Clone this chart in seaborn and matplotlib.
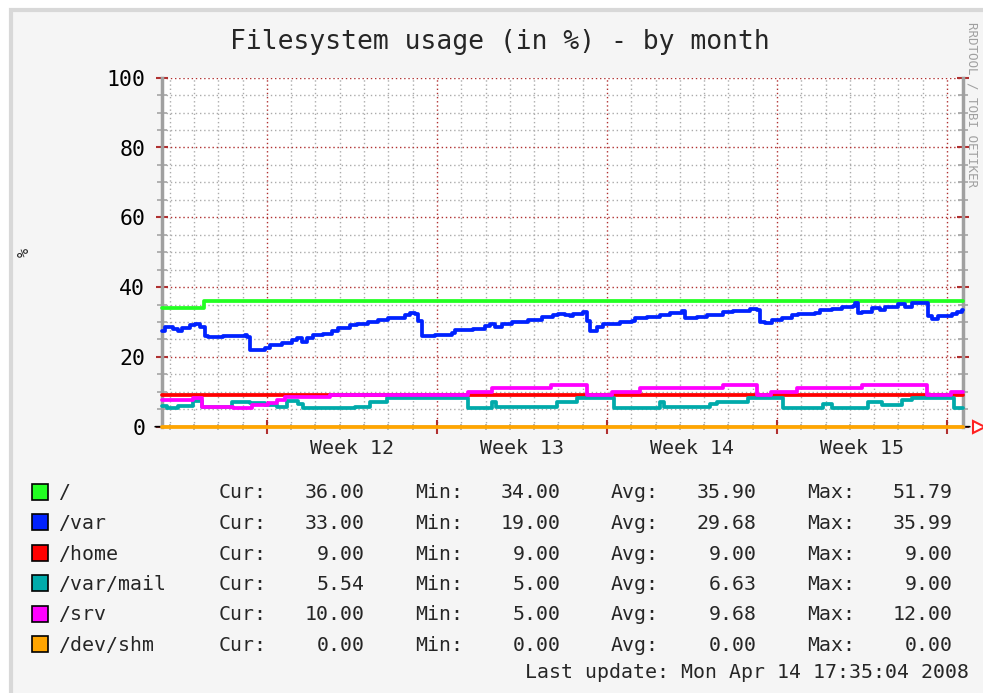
import pandas as pd
import matplotlib
matplotlib.use("Agg")
import matplotlib.pyplot as plt
import seaborn as sns
from matplotlib.patches import Rectangle
from matplotlib.ticker import MultipleLocator, NullFormatter

# days, 0 = start of week 12
filesystems = ["/", "/var", "/home", "/var/mail", "/srv", "/dev/shm"]
colors = ["#22ff22", "#0022ff", "#ff0000", "#00aaaa", "#ff00ff", "#ffa500"]

root_days = [-4.32, -2.6, 28.66]
root_vals = [34.0, 36.0, 36.0]

var_days = [-4.32, -4.2, -3.87, -3.66, -3.5, -3.17, -2.96, -2.76, -2.55, -2.43,
            -1.81, -0.91, -0.82, -0.7, -0.08, 0.12, 0.62, 1.03, 1.24, 1.44,
            1.65, 1.89, 2.31, 2.68, 2.92, 3.42, 3.71, 4.16, 4.57, 4.98,
            5.68, 5.89, 6.09, 6.22, 6.38, 6.92, 7.62, 7.74, 8.48, 8.97,
            9.18, 9.39, 9.67, 10.09, 10.75, 11.32, 11.77, 11.98, 12.27, 12.47,
            12.6, 13.01, 13.17, 13.3, 13.59, 13.83, 14.53, 15.03, 15.15, 15.64,
            16.18, 16.59, 17.09, 17.21, 17.7, 18.11, 18.77, 19.18, 19.88, 20.17,
            20.3, 20.5, 20.79, 21.2, 21.61, 21.86, 22.56, 22.77, 23.26, 23.67,
            24.13, 24.21, 24.33, 24.5, 24.91, 25.24, 25.44, 25.98, 26.27, 26.55,
            27.21, 27.38, 27.63, 28.2, 28.41, 28.62, 28.66]
var_vals = [27.4, 28.5, 28.1, 27.3, 28.4, 29.1, 29.5, 28.5, 25.9, 25.6,
            25.9, 26.2, 25.6, 21.9, 22.6, 23.3, 24.1, 24.7, 25.3, 24.3,
            25.3, 26.2, 26.6, 27.4, 28.3, 29.1, 29.5, 30.0, 30.7, 31.2,
            31.9, 32.5, 32.3, 30.2, 25.9, 26.4, 26.9, 27.6, 28.1, 28.8,
            29.5, 28.5, 29.5, 30.0, 30.7, 31.3, 31.9, 32.3, 32.1, 31.6,
            32.3, 32.9, 30.2, 27.4, 28.5, 29.5, 30.0, 30.4, 31.2, 31.3,
            31.9, 32.6, 33.2, 31.2, 31.3, 32.1, 32.9, 33.2, 33.8, 33.5,
            30.0, 29.7, 30.7, 31.2, 31.9, 32.3, 32.6, 33.5, 33.8, 34.2,
            34.7, 35.4, 32.6, 33.0, 34.0, 33.5, 34.2, 35.1, 34.2, 35.4,
            31.6, 31.0, 31.6, 32.3, 33.0, 33.5, 33.5]

home_days = [-4.32, 28.66]
home_vals = [9.0, 9.0]

mail_days = [-4.32, -4.12, -3.66, -3.05, -2.68, -1.44, -0.7, -0.08, 0.41, 0.82,
             1.28, 1.48, 3.62, 4.24, 4.94, 8.28, 9.26, 9.43, 11.94, 12.76,
             14.29, 16.18, 16.34, 18.24, 18.53, 19.8, 21.24, 22.89, 23.26, 24.74,
             25.32, 26.14, 26.55, 28.28, 28.66]
mail_vals = [6.0, 5.5, 6.0, 7.5, 5.7, 7.0, 6.8, 6.2, 5.7, 7.4,
             6.5, 5.5, 5.7, 7.2, 8.3, 5.5, 7.0, 5.7, 7.2, 8.3,
             5.5, 7.0, 5.7, 6.6, 7.2, 8.3, 5.5, 6.6, 5.5, 7.2,
             6.2, 7.6, 8.3, 5.5, 5.5]

srv_days = [-4.32, -3.05, -2.68, -1.4, -0.62, 0.04, 0.41, 0.74, 2.59, 8.28,
            9.26, 11.69, 13.17, 14.2, 15.36, 18.77, 20.17, 20.75, 21.82, 24.5,
            27.17, 28.16, 28.66]
srv_vals = [7.6, 8.3, 5.7, 5.4, 6.2, 6.7, 7.6, 8.6, 9.2, 10.0,
            11.2, 12.0, 9.2, 10.0, 11.2, 12.0, 9.2, 10.0, 11.2, 12.0,
            9.2, 10.0, 10.0]

shm_days = [-4.32, 28.66]
shm_vals = [0.0, 0.0]

cur_vals = ["36.00", "33.00", "9.00", "5.54", "10.00", "0.00"]
min_vals = ["34.00", "19.00", "9.00", "5.00", "5.00", "0.00"]
avg_vals = ["35.90", "29.68", "9.00", "6.63", "9.68", "0.00"]
max_vals = ["51.79", "35.99", "9.00", "9.00", "12.00", "0.00"]

week_labels = ["Week 12", "Week 13", "Week 14", "Week 15"]
week_centers = [3.5, 10.5, 17.5, 24.5]

series = [(root_days, root_vals), (var_days, var_vals), (home_days, home_vals),
          (mail_days, mail_vals), (srv_days, srv_vals), (shm_days, shm_vals)]
df = pd.concat([pd.DataFrame({"day": d, "usage": v, "fs": name})
                for name, (d, v) in zip(filesystems, series)], ignore_index=True)

sns.set_style("white")
plt.rcParams["font.family"] = ["DejaVu Sans Mono"]

W, H = 983, 693
fig = plt.figure(figsize=(W / 100, H / 100), dpi=100)
fig.patch.set_facecolor("white")
fig.add_artist(Rectangle((10.5 / W, -0.1), 1.2, (H - 10.5) / H + 0.1, transform=fig.transFigure,
                         facecolor="#f5f5f5", edgecolor="#d8d8d8", linewidth=3, zorder=-10))

ax = fig.add_axes([162 / W, (H - 426.7) / H, 801 / W, 349 / H])
ax.set_facecolor("white")

ax.annotate("", xy=(1.012, 0), xytext=(-0.012, 0), xycoords="axes fraction",
            arrowprops=dict(arrowstyle="-", color="black", lw=1.2), zorder=2)
ax.plot([1.02], [0], marker=">", markersize=9, mfc="white", mec="#ff2020", mew=1.5,
        transform=ax.transAxes, clip_on=False, zorder=2)

sns.lineplot(data=df, x="day", y="usage", hue="fs", hue_order=filesystems, palette=colors,
             drawstyle="steps-post", linewidth=2.7, legend=False, estimator=None,
             clip_on=False, ax=ax, zorder=3)

ax.set_xlim(-4.32, 28.66)
ax.set_ylim(0, 100)
ax.xaxis.set_major_locator(MultipleLocator(7))
ax.xaxis.set_minor_locator(MultipleLocator(1))
ax.yaxis.set_major_locator(MultipleLocator(20))
ax.yaxis.set_minor_locator(MultipleLocator(5))
ax.xaxis.set_major_formatter(NullFormatter())

red = "#b03030"
gray = "#ababab"
ax.grid(which="major", color=red, linestyle=(0, (1, 2)), linewidth=1.0)
ax.grid(which="minor", color=gray, linestyle=(0, (1, 2)), linewidth=1.0)
ax.set_axisbelow(True)

ax.tick_params(axis="y", which="major", direction="inout", length=8, width=1.5, color=red,
               left=True, right=True, labelsize=15.5, pad=8, labelcolor="black")
ax.tick_params(axis="y", which="minor", direction="inout", length=7, width=1.3, color=gray,
               left=True, right=True)
ax.tick_params(axis="x", which="major", direction="inout", length=10, width=1.5, color=red,
               bottom=True)
ax.tick_params(axis="x", which="minor", direction="inout", length=5, width=1.2, color=gray,
               bottom=True)

for side in ["left", "right"]:
    ax.spines[side].set_color("#a0a0a0")
    ax.spines[side].set_linewidth(2.5)
ax.spines["top"].set_visible(False)
ax.spines["bottom"].set_visible(False)

ax.set_xlabel("")
ax.set_ylabel("%", fontsize=11, rotation=90)
ax.yaxis.set_label_coords(-(162 - 32) / 801, 0.5)

for lbl, c in zip(week_labels, week_centers):
    ax.text(c, -0.062, lbl, transform=ax.get_xaxis_transform(), ha="center", va="center",
            fontsize=14.3)

fig.text(500 / W, 1 - 42 / H, "Filesystem usage (in %) - by month", ha="center", va="center",
         fontsize=19)
fig.text(972 / W, 1 - 22 / H, "RRDTOOL / TOBI OETIKER", rotation=270, ha="center", va="top",
         fontsize=9, color="#a0a0a0")

for i, name in enumerate(filesystems):
    yc = 492 + 30.5 * i
    fig.add_artist(Rectangle((32 / W, 1 - (yc + 7.5) / H), 16 / W, 16 / H, transform=fig.transFigure,
                             facecolor=colors[i], edgecolor="black", linewidth=1.2))
    ty = 1 - (yc + 1) / H
    fig.text(58 / W, ty, name, ha="left", va="center", fontsize=14.3)
    fig.text(219 / W, ty, "Cur:", ha="left", va="center", fontsize=14.3)
    fig.text(365 / W, ty, cur_vals[i], ha="right", va="center", fontsize=14.3)
    fig.text(415 / W, ty, "Min:", ha="left", va="center", fontsize=14.3)
    fig.text(561 / W, ty, min_vals[i], ha="right", va="center", fontsize=14.3)
    fig.text(611 / W, ty, "Avg:", ha="left", va="center", fontsize=14.3)
    fig.text(757 / W, ty, avg_vals[i], ha="right", va="center", fontsize=14.3)
    fig.text(807 / W, ty, "Max:", ha="left", va="center", fontsize=14.3)
    fig.text(953 / W, ty, max_vals[i], ha="right", va="center", fontsize=14.3)

fig.text(969 / W, 1 - 672 / H, "Last update: Mon Apr 14 17:35:04 2008", ha="right", va="center",
         fontsize=14.3)

fig.savefig("out.png", dpi=100)
